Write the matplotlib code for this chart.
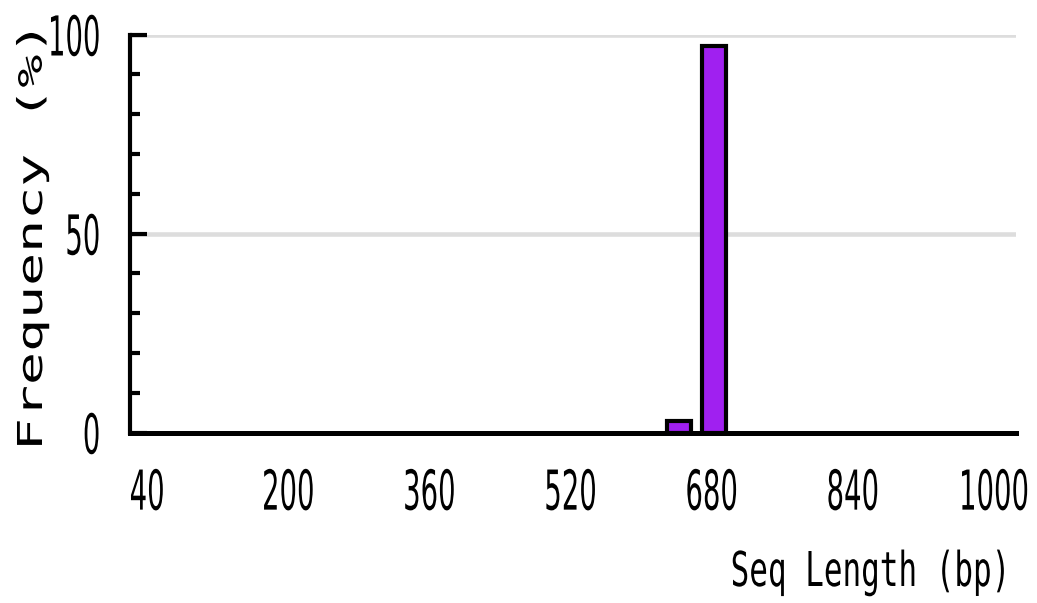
import matplotlib
matplotlib.use("Agg")
import matplotlib.pyplot as plt
from matplotlib.patheffects import AbstractPathEffect
from matplotlib.transforms import Affine2D

# sequence length histogram
BIN_CENTERS = [643, 683]
FREQ = [2.9, 97.1]
X_TICKS = [40, 200, 360, 520, 680, 840, 1000]
Y_MAJOR = [0, 50, 100]
Y_MINOR = [10, 20, 30, 40, 60, 70, 80, 90]

BAR_COLOR = "#a020f0"
GRID_COLOR = "#dddddd"


class Stretch(AbstractPathEffect):
    """Scale the glyph outlines about a fixed point of their ink box."""

    def __init__(self, sx=1.0, sy=1.0, ax_="center", ay="center"):
        super().__init__()
        self.sx, self.sy = sx, sy
        self.ax_, self.ay = ax_, ay

    def draw_path(self, renderer, gc, tpath, affine, rgbFace=None):
        ext = tpath.get_extents()
        x0 = {"left": ext.x0, "center": (ext.x0 + ext.x1) / 2, "right": ext.x1}[self.ax_]
        y0 = {"bottom": ext.y0, "center": (ext.y0 + ext.y1) / 2, "top": ext.y1,
              "baseline": 0.0}[self.ay]
        st = Affine2D().translate(-x0, -y0).scale(self.sx, self.sy).translate(x0, y0)
        renderer.draw_path(gc, tpath, st + affine, rgbFace)


fig = plt.figure(figsize=(10.37, 6.03), dpi=100)
ax = fig.add_axes([129.5 / 1037, 1 - 432.5 / 603, 886.5 / 1037, 398 / 603])

ax.bar(BIN_CENTERS, FREQ, width=27, color=BAR_COLOR, edgecolor="black", linewidth=3, zorder=2)

ax.set_xlim(20, 1025)
ax.set_ylim(0, 100)

for s in ("top", "right"):
    ax.spines[s].set_visible(False)
ax.spines["left"].set_linewidth(3)
ax.spines["bottom"].set_linewidth(3.6)
ax.spines["left"].set_zorder(3)
ax.spines["bottom"].set_zorder(3)

ax.set_yticks(Y_MAJOR)
ax.set_yticks(Y_MINOR, minor=True)
ax.set_xticks(X_TICKS)
ax.set_xticklabels([str(v) for v in X_TICKS])
ax.set_yticklabels([str(v) for v in Y_MAJOR])

ax.tick_params(axis="y", which="major", direction="in", length=12, width=3, pad=21, labelsize=19.8)
ax.tick_params(axis="y", which="minor", direction="in", length=7.5, width=3)
ax.tick_params(axis="x", length=0, pad=25, labelsize=19.8)

# tall narrow digits
for lab in ax.get_xticklabels():
    lab.set_path_effects([Stretch(sy=2.0, ay="top")])
for lab in ax.get_yticklabels():
    lab.set_path_effects([Stretch(sy=2.0, ay="center")])

ax.grid(axis="y", which="major", color=GRID_COLOR, linewidth=3.3, zorder=0)
ax.set_axisbelow(True)

ylab = ax.set_ylabel("Frequency (%)", family="DejaVu Sans Mono", fontsize=24.7)
ylab.set_verticalalignment("baseline")
ylab.set_path_effects([Stretch(sx=1.6, ax_="center", ay="baseline")])
ax.yaxis.set_label_coords((42 - 129.5) / 886.5, (432.5 - 237.5) / 398)

xlab = fig.text(1010 / 1037, 1 - 586 / 603, "Seq Length (bp)", family="DejaVu Sans Mono",
                fontsize=22.3, ha="right", va="baseline")
xlab.set_path_effects([Stretch(sy=1.55, ax_="right", ay="baseline")])

fig.savefig("out.png", dpi=100)
